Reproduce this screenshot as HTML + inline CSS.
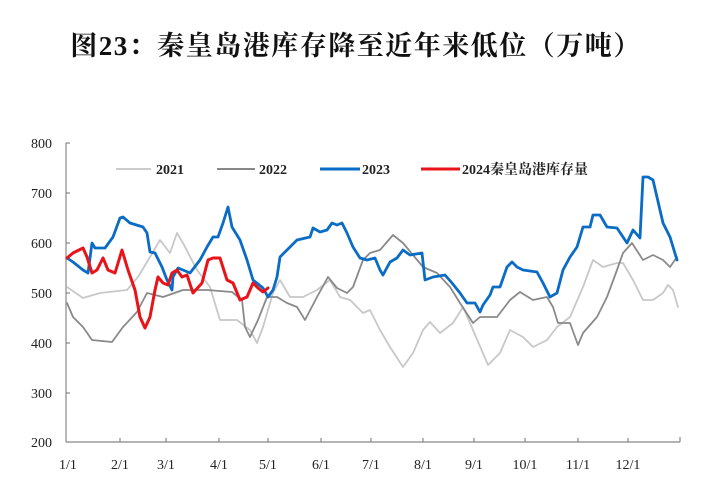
<!DOCTYPE html>
<html><head><meta charset="utf-8"><style>
body{margin:0;background:#fff;width:707px;height:497px;overflow:hidden}
</style></head><body>
<svg width="707" height="497" xmlns="http://www.w3.org/2000/svg" font-family="Liberation Serif, Noto Serif CJK SC, serif">
<text x="356" y="55" text-anchor="middle" font-size="27" letter-spacing="1.5" font-weight="bold" font-family="Liberation Serif, Noto Serif CJK SC, serif" fill="#111">图23：秦皇岛港库存降至近年来低位（万吨）</text>
<g stroke="#888" stroke-width="1.2" fill="none">
<line x1="66" y1="143" x2="66" y2="442"/>
<line x1="66" y1="442" x2="680" y2="442"/>
<line x1="66" y1="143" x2="70" y2="143"/><line x1="66" y1="193" x2="70" y2="193"/><line x1="66" y1="243" x2="70" y2="243"/><line x1="66" y1="293" x2="70" y2="293"/><line x1="66" y1="343" x2="70" y2="343"/><line x1="66" y1="393" x2="70" y2="393"/>
<line x1="120" y1="442" x2="120" y2="438"/><line x1="166" y1="442" x2="166" y2="438"/><line x1="219" y1="442" x2="219" y2="438"/><line x1="268" y1="442" x2="268" y2="438"/><line x1="321" y1="442" x2="321" y2="438"/><line x1="371" y1="442" x2="371" y2="438"/><line x1="423" y1="442" x2="423" y2="438"/><line x1="474" y1="442" x2="474" y2="438"/><line x1="525" y1="442" x2="525" y2="438"/><line x1="578" y1="442" x2="578" y2="438"/><line x1="628" y1="442" x2="628" y2="438"/><line x1="680" y1="442" x2="680" y2="437"/>
</g>
<g font-size="14" fill="#222" text-anchor="end">
<text x="52" y="148">800</text><text x="52" y="198">700</text><text x="52" y="248">600</text><text x="52" y="298">500</text><text x="52" y="348">400</text><text x="52" y="398">300</text><text x="52" y="447">200</text>
</g>
<g font-size="14" fill="#222" text-anchor="middle">
<text x="68" y="469">1/1</text><text x="120" y="469">2/1</text><text x="166" y="469">3/1</text><text x="219" y="469">4/1</text><text x="268" y="469">5/1</text><text x="321" y="469">6/1</text><text x="371" y="469">7/1</text><text x="423" y="469">8/1</text><text x="474" y="469">9/1</text><text x="525" y="469">10/1</text><text x="578" y="469">11/1</text><text x="628" y="469">12/1</text>
</g>
<g font-size="14" font-weight="bold" fill="#222">
<line x1="116" y1="169" x2="151" y2="169" stroke="#ccc" stroke-width="2"/><text x="156" y="174">2021</text>
<line x1="217" y1="169" x2="255" y2="169" stroke="#888" stroke-width="2"/><text x="259" y="174">2022</text>
<line x1="320" y1="169" x2="360" y2="169" stroke="#0a6cc4" stroke-width="3"/><text x="362" y="174">2023</text>
<line x1="421" y1="169" x2="460" y2="169" stroke="#e8141a" stroke-width="3"/><text x="462" y="174">2024秦皇岛港库存量</text>
</g>
<g fill="none" stroke-linejoin="round" stroke-linecap="round">
<polyline stroke="#c8c8c8" stroke-width="1.8" points="67,287 83,298 100,293 127,290 138,277 150,257 160,240 170,253 177,233 183,243 197,270 210,287 220,320 237,320 250,330 257,343 263,327 273,293 280,280 290,297 303,297 317,290 330,280 340,297 350,300 363,313 370,310 380,330 390,347 403,367 413,353 423,330 430,322 440,333 453,323 463,307 473,330 488,365 500,353 510,330 523,337 533,347 547,340 557,327 570,317 583,287 593,260 603,267 617,263 623,263 633,280 643,300 653,300 663,293 668,285 673,290 678,307"/>
<polyline stroke="#8a8a8a" stroke-width="1.8" points="67,303 73,317 83,327 92,340 112,342 123,327 137,312 147,293 163,297 183,290 207,290 232,292 242,300 245,327 250,337 258,320 267,297 277,297 287,303 297,307 305,320 317,297 328,277 337,288 347,293 353,287 363,260 370,253 380,250 393,235 403,243 413,255 423,267 437,273 450,287 460,303 473,323 480,317 497,317 510,300 520,292 533,300 547,297 553,307 558,323 570,323 578,345 583,333 597,317 607,297 617,270 623,253 632,243 643,260 653,255 663,260 670,267 677,257"/>
<polyline stroke="#0a6cc4" stroke-width="2.8" points="67,258 73,262 83,270 88,273 92,243 95,248 105,248 113,237 120,218 123,217 130,223 143,227 147,233 150,252 155,253 162,267 167,280 172,290 173,277 178,268 183,270 190,273 200,260 207,247 213,237 218,237 223,223 228,207 232,227 240,240 247,260 253,280 263,288 268,297 273,290 277,277 280,257 287,250 297,240 310,237 313,228 320,232 327,230 332,223 337,225 342,223 347,233 353,247 360,258 367,260 375,258 380,270 383,275 390,262 397,258 403,250 410,255 422,253 425,280 433,277 445,275 452,283 460,293 467,303 475,303 480,312 483,305 490,295 493,287 500,287 507,267 512,262 517,267 523,270 537,272 543,283 550,297 557,293 563,270 570,257 577,247 583,227 590,227 593,215 600,215 607,227 617,228 627,243 633,230 640,238 643,177 648,177 653,180 663,223 670,237 677,260"/>
<polyline stroke="#e8141a" stroke-width="3" points="67,258 73,253 83,248 87,257 92,273 97,270 103,258 108,270 115,273 122,250 128,270 135,290 140,317 145,328 150,317 155,290 158,277 163,283 168,285 172,273 177,270 182,277 187,275 193,293 202,283 208,260 213,258 220,258 227,280 233,283 240,300 247,297 253,283 258,288 263,292 268,288"/>
</g>
</svg>
</body></html>
